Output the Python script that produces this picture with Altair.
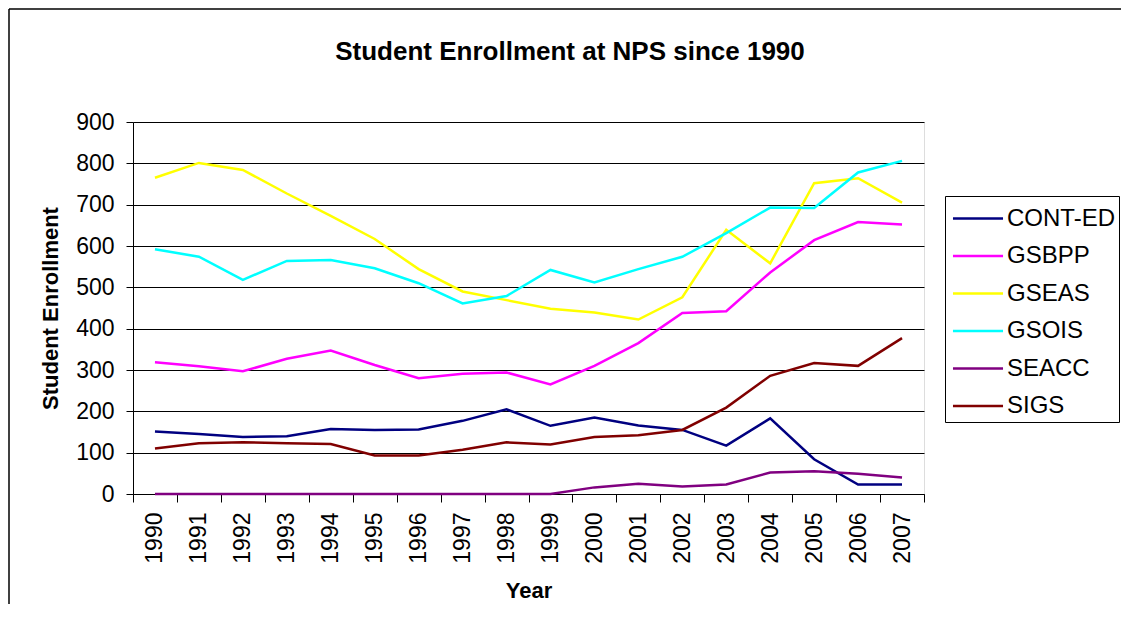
import altair as alt
import pandas as pd

years = [str(y) for y in range(1990, 2008)]
series = ["CONT-ED", "GSBPP", "GSEAS", "GSOIS", "SEACC", "SIGS"]
colors = ["#000080", "#FF00FF", "#FFFF00", "#00FFFF", "#800080", "#800000"]
chart_title = "Student Enrollment at NPS since 1990"

cont_ed = [151, 145, 138, 140, 157, 155, 156, 177, 205, 165, 185, 166, 155, 117, 183, 84, 23, 23]
gsbpp = [319, 309, 297, 327, 347, 312, 280, 291, 294, 265, 310, 365, 438, 442, 536, 614, 658, 652]
gseas = [765, 801, 784, 727, 673, 617, 544, 490, 469, 448, 439, 422, 476, 639, 558, 752, 764, 705]
gsois = [592, 574, 518, 564, 566, 546, 510, 461, 479, 542, 512, 544, 574, 631, 693, 692, 778, 806]
seacc = [0, 0, 0, 0, 0, 0, 0, 0, 0, 0, 16, 25, 18, 23, 52, 55, 49, 40]
sigs = [110, 123, 125, 123, 121, 93, 93, 107, 125, 120, 138, 142, 155, 209, 286, 317, 310, 377]

values = [cont_ed, gsbpp, gseas, gsois, seacc, sigs]
rows = []
for name, vals in zip(series, values):
    for yr, v in zip(years, vals):
        rows.append({"Year": yr, "School": name, "Enrollment": v})
df = pd.DataFrame(rows)

FONT = "Liberation Sans, Arial, sans-serif"

lines = alt.Chart(df).mark_line(strokeWidth=2.5).encode(
    x=alt.X(
        "Year:O",
        sort=years,
        bandPosition=0.5,
        scale=alt.Scale(type="band", paddingInner=0, paddingOuter=0),
        axis=alt.Axis(
            title="Year",
            labelAngle=-90,
            labelFontSize=23,
            labelFont=FONT,
            labelColor="black",
            labelPadding=10,
            tickBand="extent",
            tickSize=8,
            tickColor="black",
            domainColor="black",
            titleFontSize=22,
            titleFont=FONT,
            titleFontWeight="bold",
            titleColor="black",
            titleBaseline="alphabetic",
            titleY=103,
            grid=False,
        ),
    ),
    y=alt.Y(
        "Enrollment:Q",
        scale=alt.Scale(domain=[0, 900], nice=False, zero=True),
        axis=alt.Axis(
            title="Student Enrollment",
            values=[0, 100, 200, 300, 400, 500, 600, 700, 800, 900],
            labelFontSize=23,
            labelFont=FONT,
            labelColor="black",
            labelPadding=12,
            tickSize=7,
            tickColor="black",
            domainColor="black",
            grid=True,
            gridColor="black",
            gridWidth=1,
            gridOpacity=1,
            titleFontSize=22,
            titleFont=FONT,
            titleFontWeight="bold",
            titleColor="black",
            titleBaseline="alphabetic",
            titleX=-76,
        ),
    ),
    color=alt.Color(
        "School:N",
        scale=alt.Scale(domain=series, range=colors),
        legend=alt.Legend(
            title=None,
            orient="none",
            legendX=812,
            legendY=74,
            labelFontSize=24,
            labelFont=FONT,
            labelColor="black",
            symbolType="M-1.43,0H1.43",
            symbolSize=1225,
            symbolStrokeWidth=2.5,
            symbolOffset=10.5,
            labelOffset=10,
            padding=3.5,
            rowPadding=6.5,
            strokeColor="black",
            fillColor="white",
        ),
    ),
)

single = alt.Data(values=[{"t": chart_title}])

border_left = alt.Chart(single).mark_rule(color="black", strokeWidth=1.5).encode(
    x=alt.value(-124), y=alt.value(-113), y2=alt.value(520)
)
border_top = alt.Chart(single).mark_rule(color="black", strokeWidth=1.5).encode(
    x=alt.value(-124), x2=alt.value(1000), y=alt.value(-113)
)
title_text = alt.Chart(single).mark_text(
    font=FONT, fontSize=26, fontWeight="bold", color="black",
    align="center", baseline="alphabetic",
).encode(
    text="t:N", x=alt.value(437), y=alt.value(-62)
)

chart = alt.layer(border_left, border_top, title_text, lines).properties(
    width=791,
    height=372,
    autosize=alt.AutoSizeParams(type="none"),
    padding={"left": 125, "top": 114, "right": 197, "bottom": 110},
).configure_view(
    fill="#C0C0C0", stroke="#808080", strokeWidth=2
).configure_legend(
    strokeWidth=1
).configure(background="white")

chart.save("out.html", embed_options={"renderer": "svg", "actions": False})
